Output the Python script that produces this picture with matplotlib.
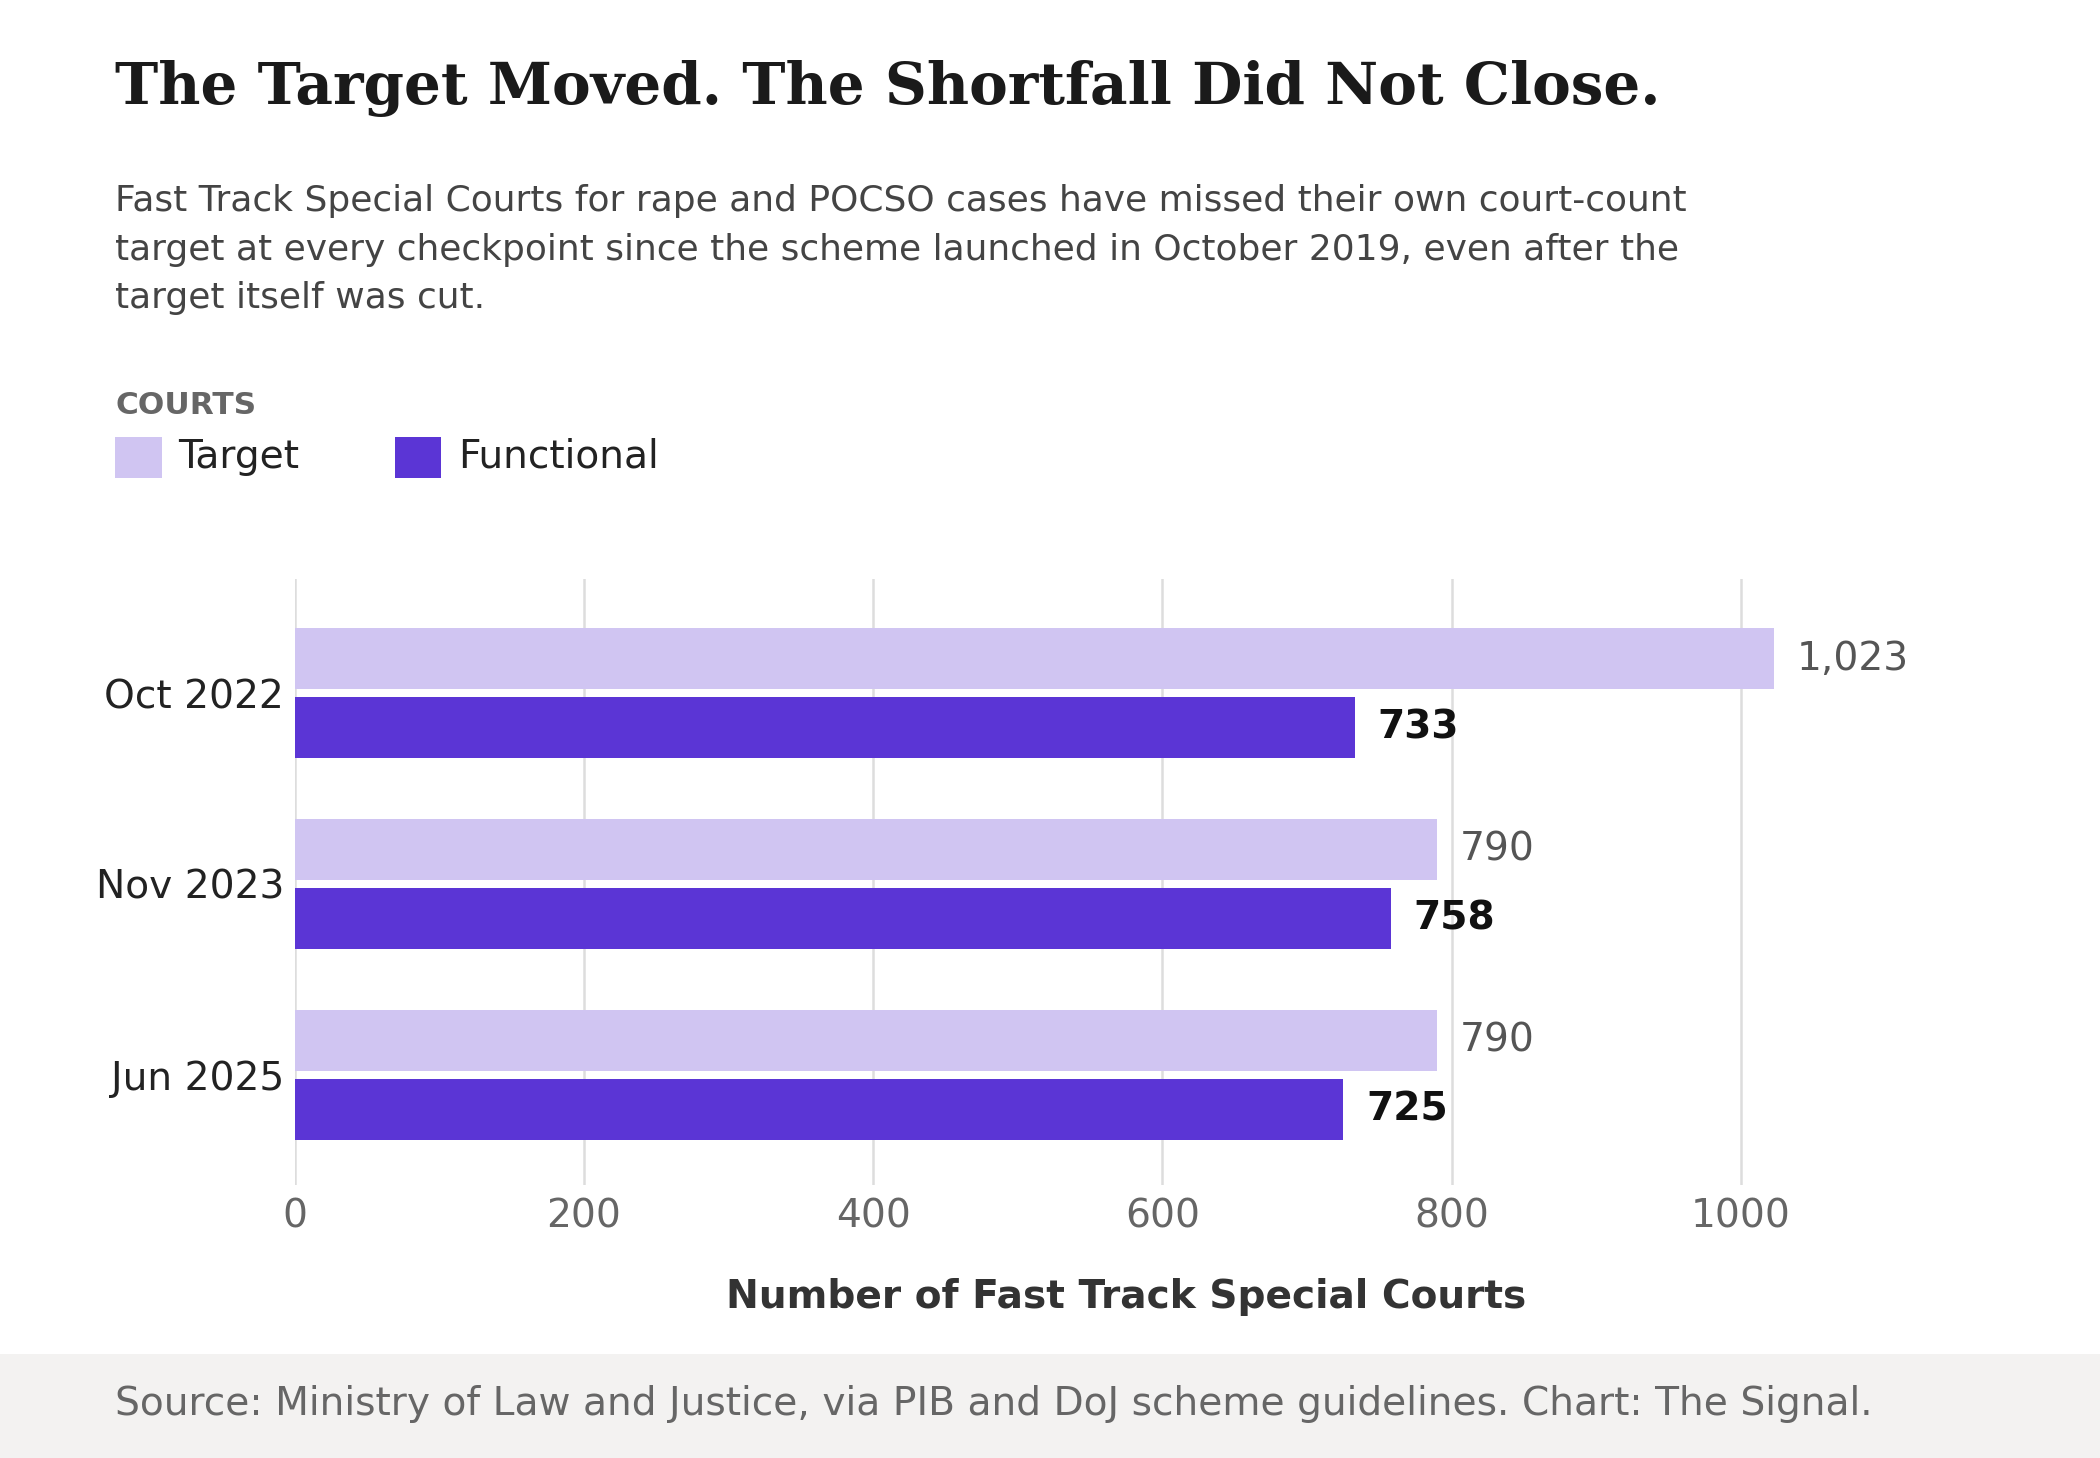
import matplotlib.pyplot as plt
from matplotlib.patches import Rectangle
import numpy as np

# Data
checkpoints = ['Oct 2022', 'Nov 2023', 'Jun 2025']
target = [1023, 790, 790]
functional = [733, 758, 725]
x_ticks = [0, 200, 400, 600, 800, 1000]

TARGET_COLOR = '#D0C5F2'
FUNC_COLOR = '#5B35D5'

fig = plt.figure(figsize=(14, 9.72), dpi=150)
fig.patch.set_facecolor('white')

# Footer band
fig.patches.append(Rectangle((0, 0), 1, 1 - 1354 / 1458, transform=fig.transFigure,
                             facecolor='#F3F2F1', edgecolor='none', zorder=0))

ax = fig.add_axes([0.1403, 0.187, 0.792, 0.416])

y = np.arange(len(checkpoints))
h = 0.32
off = 0.18
ax.barh(y - off, target, height=h, color=TARGET_COLOR, zorder=2)
ax.barh(y + off, functional, height=h, color=FUNC_COLOR, zorder=2)

for yi, t, f in zip(y, target, functional):
    ax.annotate(f'{t:,}', (t, yi - off), xytext=(11, 0), textcoords='offset points',
                va='center', ha='left', fontsize=18.8, color='#555555')
    ax.annotate(f'{f:,}', (f, yi + off), xytext=(11, 0), textcoords='offset points',
                va='center', ha='left', fontsize=18.8, color='#111111', fontweight='bold')

ax.set_xlim(0, 1150)
ax.set_ylim(2.58, -0.6)
ax.set_yticks(y)
ax.set_yticklabels(checkpoints, fontsize=18.8, color='#222222')
ax.set_xticks(x_ticks)
ax.set_xticklabels([str(v) for v in x_ticks], fontsize=18.8, color='#666666')
ax.tick_params(length=0, pad=6)
ax.tick_params(axis='y', pad=5)
ax.grid(axis='x', color='#DDDDDD', linewidth=1.2, zorder=0)
ax.set_axisbelow(True)
for s in ax.spines.values():
    s.set_visible(False)
ax.set_xlabel('Number of Fast Track Special Courts', fontsize=18.8, fontweight='bold',
              color='#333333', labelpad=20)

# Title and subtitle
fig.text(0.0548, 0.9285, 'The Target Moved. The Shortfall Did Not Close.',
         family='DejaVu Serif', fontweight='bold', fontsize=27.85, color='#1A1A1A',
         va='baseline', ha='left')
fig.text(0.0548, 1 - 308 / 1458,
         'Fast Track Special Courts for rape and POCSO cases have missed their own court-count\n'
         'target at every checkpoint since the scheme launched in October 2019, even after the\n'
         'target itself was cut.',
         fontsize=17.25, color='#444444', va='baseline', ha='left', linespacing=1.53)

# Legend
fig.text(0.0548, 1 - 414 / 1458, 'COURTS', fontsize=15, fontweight='bold',
         color='#666666', va='baseline', ha='left')
sq_y = 1 - 478 / 1458
sq_h = 41 / 1458
fig.patches.append(Rectangle((115 / 2100, sq_y), 47 / 2100, sq_h, transform=fig.transFigure,
                             facecolor=TARGET_COLOR, edgecolor='none'))
fig.patches.append(Rectangle((395 / 2100, sq_y), 46 / 2100, sq_h, transform=fig.transFigure,
                             facecolor=FUNC_COLOR, edgecolor='none'))
fig.text(178 / 2100, 1 - 457 / 1458, 'Target', fontsize=18.8, color='#222222',
         va='center', ha='left')
fig.text(458 / 2100, 1 - 457 / 1458, 'Functional', fontsize=18.8, color='#222222',
         va='center', ha='left')

# Source
fig.text(0.0548, 1 - 1404 / 1458,
         'Source: Ministry of Law and Justice, via PIB and DoJ scheme guidelines. Chart: The Signal.',
         fontsize=18.77, color='#666666', va='center', ha='left')

fig.savefig('out.png', dpi=150, facecolor=fig.get_facecolor())
